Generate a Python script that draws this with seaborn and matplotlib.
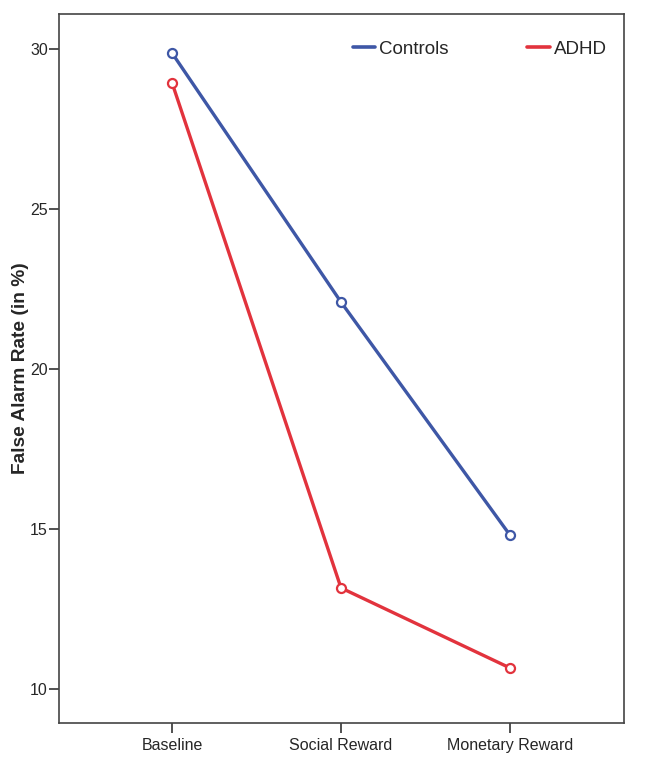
import numpy as np
import pandas as pd
import seaborn as sns
import matplotlib
matplotlib.use("Agg")
import matplotlib.pyplot as plt
from matplotlib.lines import Line2D

# values
conditions = ["Baseline", "Social Reward", "Monetary Reward"]
controls = [29.87, 22.09, 14.81]
adhd = [28.94, 13.16, 10.66]
groups = ["Controls", "ADHD"]
colors = {"Controls": "#3e57a6", "ADHD": "#e2333d"}

df = pd.DataFrame({
    "condition": conditions * 2,
    "rate": controls + adhd,
    "group": ["Controls"] * 3 + ["ADHD"] * 3,
})

sns.set_style("ticks")
plt.rcParams["font.family"] = ["Liberation Sans", "DejaVu Sans"]

fig = plt.figure(figsize=(6.53, 7.65), dpi=100)
ax = fig.add_axes([0.0904, 0.0549, 0.8652, 0.9268])

sns.lineplot(data=df, x="condition", y="rate", hue="group", hue_order=groups,
             palette=colors, marker="o", markersize=6.5, linewidth=2.4,
             legend=False, ax=ax)
for line in ax.lines:
    line.set_markerfacecolor("white")
    line.set_markeredgecolor(line.get_color())
    line.set_markeredgewidth(1.6)

ax.set_xlim(-0.669, 2.675)
ax.set_ylim(8.94, 31.09)
ax.set_yticks([10, 15, 20, 25, 30])
ax.set_xlabel("")
ax.set_ylabel("False Alarm Rate (in %)", fontsize=13.8, fontweight="bold")
ax.yaxis.set_label_coords(-0.053, 0.5)
ax.tick_params(axis="both", direction="out", length=7, width=1.2,
               labelsize=11.5, color="#333333")
ax.tick_params(axis="y", pad=1)
ax.tick_params(axis="x", pad=4)
for s in ax.spines.values():
    s.set_linewidth(1.2)
    s.set_color("#444444")

handles = [Line2D([], [], color=colors[g], lw=2.6) for g in groups]
ax.legend(handles, groups, loc="upper right", ncol=2, frameon=False,
          fontsize=13.5, handlelength=1.2, handletextpad=0.2,
          columnspacing=4.2, bbox_to_anchor=(0.999, 0.986))

fig.savefig("out.png", dpi=100)
